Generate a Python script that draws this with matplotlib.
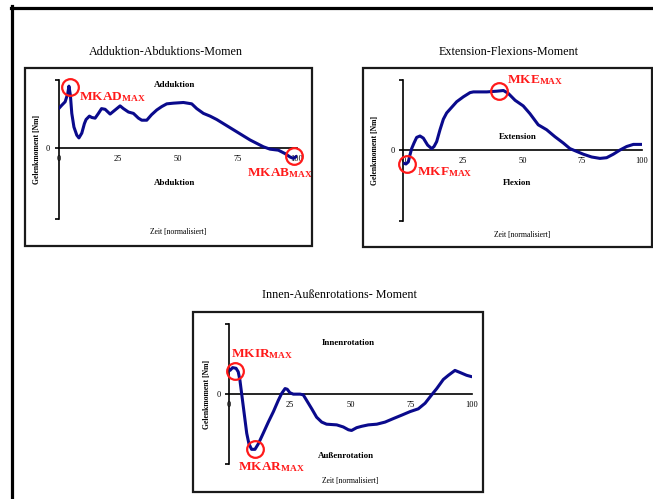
import matplotlib
matplotlib.use("Agg")
import matplotlib.pyplot as plt
from matplotlib.patches import Rectangle
from matplotlib.lines import Line2D

plt.rcParams["font.family"] = ["Liberation Serif", "DejaVu Serif"]
plt.rcParams["mathtext.fontset"] = "custom"
plt.rcParams["mathtext.rm"] = "Liberation Serif"
plt.rcParams["mathtext.bf"] = "Liberation Serif:bold"

W, H = 653, 499

# Adduktion / Abduktion
t_add = [0, 1.3, 2.7, 3.8, 4.3, 4.9, 5.5, 6.4, 7.6, 8.5, 9.7, 10.8, 11.5, 12.9, 13.9,
         15.3, 16.7, 18, 19.5, 21.6, 23.7, 25.8, 27.2, 29.3, 31.4, 33.5, 34.9, 37, 39,
         41.2, 43.3, 45.4, 48.2, 52.4, 55.9, 58, 60.8, 63.6, 66.4, 69.2, 72, 74.8, 77.6,
         80.4, 83.2, 86, 88.8, 92.3, 95.1, 97.2, 98.6, 100]
m_add = [58, 63, 68, 80, 91, 78, 51, 31, 19, 15, 22, 36, 42, 47, 45,
         44, 51, 58, 57, 50, 56, 62, 58, 53, 51, 44, 41, 41, 49,
         56, 61, 65, 66, 67, 65, 58, 51, 47, 42, 36, 30, 24, 18,
         12, 7, 2, -1.5, -3, -8, -13, -15, -12]

# Extension / Flexion
t_ext = [0.3, 1.1, 2.1, 2.8, 3.5, 4.5, 5.6, 7, 8.4, 10.2, 11.9, 12.9, 14, 15.4, 16.8,
         18.2, 20.3, 22.4, 25.2, 28, 29.4, 35, 39.2, 42, 44, 46.9, 50.3, 53.1, 56.6,
         60.1, 63.6, 67.1, 69.9, 72.7, 75.5, 79, 82.5, 85.3, 88.1, 90.9, 93.7, 96.5, 100]
m_ext = [-19, -20, -17, -7, 2, 10, 18, 20, 17, 7, 2, 5, 12, 29, 44,
         53, 61, 69, 76, 82, 83, 83, 84, 85, 81, 71, 63, 52, 36,
         29, 19, 10, 2, -2, -6, -10, -12, -11, -6, 0, 5, 8, 8]

# Innen- / Aussenrotation
t_rot = [0.4, 1.5, 2.9, 3.8, 4.5, 5.2, 5.9, 6.6, 7.3, 8.2, 9.3, 10.7, 12.1, 14.1, 16.2,
         18.3, 20.3, 21.7, 23.1, 24, 25.1, 26.5, 29.3, 30.6, 32, 34.1, 36.1, 38.2, 40.2,
         44.4, 47.1, 49.2, 50.5, 52.6, 54.7, 57.4, 60.9, 64.3, 67.7, 71.2, 74.6, 78,
         80.8, 83.5, 85.6, 88.3, 90.4, 93.1, 95.2, 97.9, 100]
m_rot = [34, 38, 37, 32, 20, 1, -18, -37, -56, -71, -79, -79, -71, -56, -40,
         -25, -9, 1, 8, 7, 2, 0, 0, -1, -9, -21, -33, -40, -43,
         -44, -47, -51, -52, -48, -46, -44, -43, -40, -35, -30, -25, -21,
         -13, -1, 8, 21, 27, 34, 31, 27, 25]

# Extremwerte (Zeit, Moment)
add_max = (4.7, 90)
abd_max = (99, -11)
ext_max = (40.3, 84)
flex_max = (1.4, -20)
ir_max = (2.5, 33)
ar_max = (10.7, -78)

LINE = "#0a0a8c"
RED = "#ff1a1a"


def fx(x):
    return x / W


def fy(y):
    return 1 - y / H


def add_panel(fig, box, axrect, ylim, t, m, title, title_xy, upper, lower, ylab_x, xlab_xy):
    bx0, by0, bx1, by1 = box
    fig.patches.append(Rectangle((fx(bx0), fy(by1)), fx(bx1 - bx0), (by1 - by0) / H,
                                 transform=fig.transFigure, fill=False,
                                 edgecolor="#1a1a1a", lw=1.6, zorder=0))
    fig.text(fx(title_xy[0]), fy(title_xy[1]), title, ha="center", va="center", fontsize=8.7)

    x0, y0, x1, y1 = axrect
    ax = fig.add_axes([fx(x0), fy(y1), fx(x1 - x0), (y1 - y0) / H])
    ax.set_facecolor("none")
    ax.plot(t, m, color=LINE, lw=2.2, solid_capstyle="round", zorder=3)
    ax.set_xlim(0, 100)
    ax.set_ylim(*ylim)
    for s in ["top", "right"]:
        ax.spines[s].set_visible(False)
    ax.spines["bottom"].set_position(("data", 0))
    ax.spines["bottom"].set_linewidth(1.2)
    ax.spines["left"].set_linewidth(1.2)
    ax.set_xticks([0, 25, 50, 75, 100])
    ax.tick_params(axis="x", length=0, pad=5, labelsize=6)
    ax.set_yticks([ylim[0], 0, ylim[1]])
    ax.set_yticklabels(["", "0", ""])
    ax.tick_params(axis="y", length=3, width=1.2, direction="out", pad=3, labelsize=6)

    fig.text(fx(upper[1][0]), fy(upper[1][1]), upper[0], ha="center", va="center",
             fontsize=6.5, fontweight="bold")
    fig.text(fx(lower[1][0]), fy(lower[1][1]), lower[0], ha="center", va="center",
             fontsize=6.5, fontweight="bold")
    fig.text(fx(ylab_x), fy((y0 + y1) / 2), "Gelenkmoment [Nm]", rotation=90,
             ha="center", va="center", fontsize=5.5, fontweight="bold")
    fig.text(fx(xlab_xy[0]), fy(xlab_xy[1]), "Zeit [normalisiert]", ha="center",
             va="center", fontsize=5.5)
    return ax


def mark(ax, pt, label, dxy, ha="left"):
    ax.plot([pt[0]], [pt[1]], marker="o", ms=12, mfc="none", mec=RED, mew=1.6,
            zorder=4, clip_on=False)
    ax.annotate(r"$\mathbf{" + label + r"_{MAX}}$", xy=pt, xytext=dxy,
                textcoords="offset pixels", ha=ha, va="center",
                color=RED, fontsize=9.6, zorder=5, annotation_clip=False)


fig = plt.figure(figsize=(W / 100, H / 100), dpi=100)

# Rahmen
fig.lines.append(Line2D([fx(11), fx(653)], [fy(7.5), fy(7.5)], transform=fig.transFigure,
                        color="black", lw=2.3))
fig.lines.append(Line2D([fx(12.5), fx(12.5)], [fy(6.3), fy(499)], transform=fig.transFigure,
                        color="black", lw=2.3))

ax1 = add_panel(fig, (25, 67.7, 312, 246), (58.7, 80, 296.7, 219), (-104, 100),
                t_add, m_add, "Adduktion-Abduktions-Momen", (166, 52),
                ("Adduktion", (175, 85)), ("Abduktion", (175, 183)), 37, (178, 232))
mark(ax1, add_max, "MKAD", (9, -10))
mark(ax1, abd_max, "MKAB", (-47, -17))

ax2 = add_panel(fig, (363, 67.7, 651.5, 247), (403.3, 80, 641.7, 220.7), (-101, 100),
                t_ext, m_ext, "Extension-Flexions-Moment", (509, 52),
                ("Extension", (518, 137)), ("Flexion", (517, 183)), 375, (521.7, 235))
mark(ax2, ext_max, "MKE", (8, 11))
mark(ax2, flex_max, "MKF", (10, -8))

ax3 = add_panel(fig, (193, 312, 483.3, 492), (229, 324.3, 471.7, 464), (-100, 100),
                t_rot, m_rot, "Innen-Au\u00dfenrotations- Moment", (339, 295),
                ("Innenrotation", (348, 343)), ("Au\u00dfenrotation", (345.7, 456)),
                206.7, (350, 481))
mark(ax3, ir_max, "MKIR", (-4, 17))
mark(ax3, ar_max, "MKAR", (-17, -18))

fig.savefig("out.png", dpi=100)
